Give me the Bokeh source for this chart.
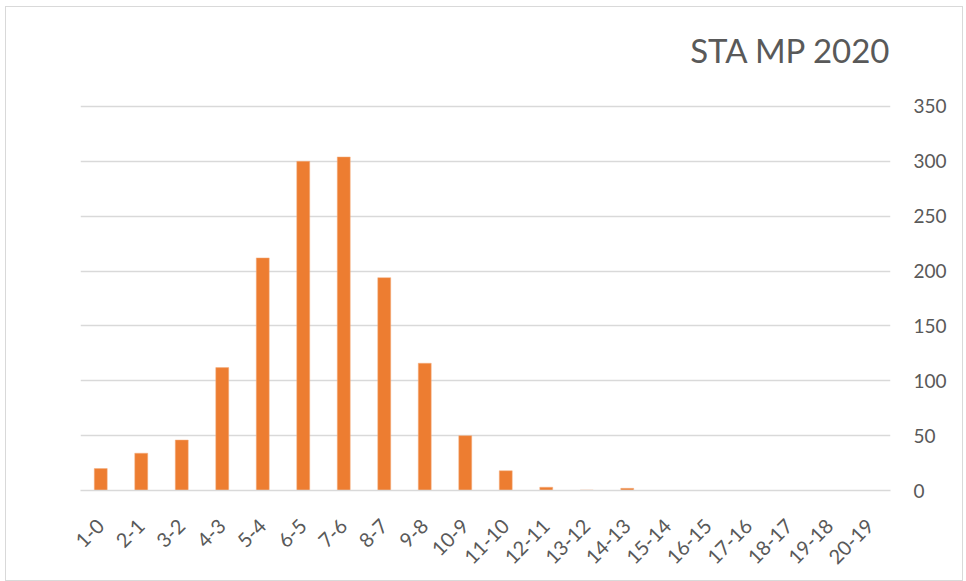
from bokeh.plotting import figure
from bokeh.models import FixedTicker, Range1d, Label
from bokeh.embed import file_html
from bokeh.resources import INLINE
from math import pi

categories = ["1-0", "2-1", "3-2", "4-3", "5-4", "6-5", "7-6", "8-7", "9-8", "10-9",
              "11-10", "12-11", "13-12", "14-13", "15-14", "16-15", "17-16", "18-17",
              "19-18", "20-19"]
values = [20, 34, 46, 112, 212, 300, 304, 194, 116, 50,
          18, 3, 0.5, 2, 0, 0, 0, 0, 0, 0]
y_ticks = [0, 50, 100, 150, 200, 250, 300, 350]
title_text = "STA MP 2020"

FONT = "Lato"
GRAY = "#595959"
Y_MAX = 422  # extra headroom above 350 holds the title inside the frame

p = figure(x_range=categories, width=958, height=575, output_backend="svg",
           toolbar_location=None, y_axis_location="right", title=None)
p.y_range = Range1d(0, Y_MAX)
p.margin = (6, 0, 0, 5)
p.styles = {"border": "1px solid #d9d9d9"}

p.vbar(x=categories, top=values, width=0.32, color="#ED7D31", line_color="#F4B183", line_width=0.5)

title = Label(x=len(categories), y=y_ticks[-1], x_offset=1, y_offset=56, text=title_text,
              text_align="right", text_baseline="alphabetic", text_font=FONT,
              text_font_size="33px", text_color=GRAY)
p.add_layout(title)

p.min_border_left = 74
p.min_border_right = 74
p.min_border_bottom = 92
p.min_border_top = 20

p.outline_line_color = None
p.xgrid.grid_line_color = None
p.ygrid.grid_line_color = "#d9d9d9"
p.ygrid.grid_line_width = 1.5

p.yaxis.ticker = FixedTicker(ticks=y_ticks)
p.yaxis.axis_line_color = None
p.yaxis.major_tick_line_color = None
p.yaxis.minor_tick_line_color = None
p.yaxis.major_label_standoff = 17
p.yaxis.major_label_text_font = FONT
p.yaxis.major_label_text_font_size = "19px"
p.yaxis.major_label_text_color = GRAY

p.xaxis.axis_line_color = "#d9d9d9"
p.xaxis.axis_line_width = 1.5
p.xaxis.major_tick_line_color = None
p.xaxis.minor_tick_line_color = None
p.xaxis.major_label_orientation = pi / 4
p.xaxis.major_label_standoff = 26
p.xaxis.major_label_text_font = FONT
p.xaxis.major_label_text_font_size = "20px"
p.xaxis.major_label_text_color = GRAY

p.x_range.range_padding = 0

open("out.html", "w").write(file_html(p, INLINE))
